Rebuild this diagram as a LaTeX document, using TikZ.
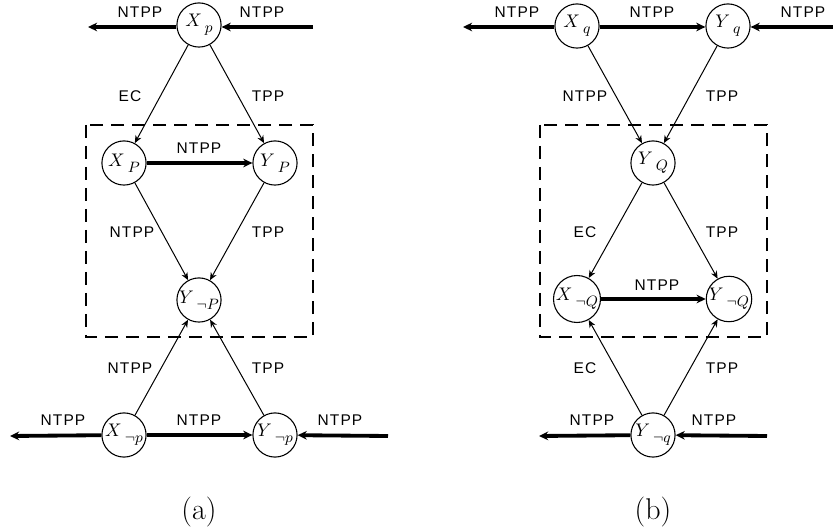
\documentclass[tikz,border=0pt]{standalone}
\usepackage{fontspec}
\usetikzlibrary{arrows.meta}
\newfontfamily\labfont{Liberation Sans}[LetterSpace=7.0]
\newcommand\mysub[2]{#1\mkern3mu\lower3.6pt\hbox{\fontsize{9}{10}\selectfont$#2$}}
\begin{document}
\begin{tikzpicture}[x=0.6pt,y=-0.6pt,
  st/.style={circle,draw,line width=0.65pt,minimum size=26.5pt,inner sep=0pt,font=\fontsize{11}{13}\selectfont},
  fine/.style={line width=0.6pt,-{Stealth[length=4.6pt,width=3.9pt]}},
  bold/.style={line width=2.3pt,-{Stealth[length=5.5pt,width=5.2pt]}},
  lab/.style={font=\labfont\fontsize{9.3}{11}\selectfont,inner sep=0pt},
  captext/.style={font=\fontsize{18}{20}\selectfont,inner sep=0pt},
  box/.style={line width=1.6pt,dash pattern=on 7.8pt off 4.8pt}]
\useasboundingbox (0,0) rectangle (833,531);
% ---------- panel (a) ----------
\draw[box] (86,125) rectangle (313,337);
\node[st] (Xp) at (199,25) {$\mysub{X}{p}$};
\node[st] (XP) at (124,163) {$\mysub{X}{P}$};
\node[st] (YP) at (275,163) {$\mysub{Y}{P}$};
\node[st] (YnP) at (199,300) {$\mysub{Y}{\neg P}$};
\node[st] (Xnp) at (124,435) {$\mysub{X}{\neg p}$};
\node[st] (Ynp) at (275,435) {$\mysub{Y}{\neg p}$};
\coordinate (aTL) at (88,27);
\coordinate (aTR) at (313,27);
\coordinate (aBL) at (10,436);
\coordinate (aBR) at (388,436);
\draw[bold] (Xp.west|-aTL) -- (aTL);
\draw[bold] (aTR) -- (Xp.east|-aTR);
\draw[fine] (Xp) -- (XP);
\draw[fine] (Xp) -- (YP);
\draw[bold] (XP) -- (YP);
\draw[fine] (XP) -- (YnP);
\draw[fine] (YP) -- (YnP);
\draw[fine] (Xnp) -- (YnP);
\draw[fine] (Ynp) -- (YnP);
\draw[bold] (Xnp) -- (Ynp);
\draw[bold] (Xnp) -- (aBL);
\draw[bold] (aBR) -- (Ynp);
\node[lab] (la1) at (140,12) {NTPP};
\node[lab] (la2) at (262,12) {NTPP};
\node[lab] (la3) at (130,96) {EC};
\node[lab] (la4) at (268,96) {TPP};
\node[lab] (la5) at (199,148) {NTPP};
\node[lab] (la6) at (132,232) {NTPP};
\node[lab] (la7) at (268,232) {TPP};
\node[lab] (la8) at (130,368) {NTPP};
\node[lab] (la9) at (268,368) {TPP};
\node[lab] (la10) at (63,420) {NTPP};
\node[lab] (la11) at (199,420) {NTPP};
\node[lab] (la12) at (340,420) {NTPP};
\node[captext] (capa) at (199,512) {(a)};
% ---------- panel (b) ----------
\draw[box] (540,125) rectangle (767,337);
\node[st] (Xq) at (577,26) {$\mysub{X}{q}$};
\node[st] (Yq) at (728,26) {$\mysub{Y}{q}$};
\node[st] (YQ) at (653,163) {$\mysub{Y}{Q}$};
\node[st] (XnQ) at (577,299) {$\mysub{X}{\neg Q}$};
\node[st] (YnQ) at (729,299) {$\mysub{Y}{\neg Q}$};
\node[st] (Ynq) at (653,435) {$\mysub{Y}{\neg q}$};
\coordinate (bTL) at (463,27);
\coordinate (bTR) at (833,27);
\coordinate (bBL) at (539,436);
\coordinate (bBR) at (767,436);
\draw[bold] (Xq.west|-bTL) -- (bTL);
\draw[bold] (Xq.east|-bTL) -- (Yq.west|-bTL);
\draw[bold] (bTR) -- (Yq.east|-bTR);
\draw[fine] (Xq) -- (YQ);
\draw[fine] (Yq) -- (YQ);
\draw[fine] (YQ) -- (XnQ);
\draw[fine] (YQ) -- (YnQ);
\draw[bold] (XnQ) -- (YnQ);
\draw[fine] (Ynq) -- (XnQ);
\draw[fine] (Ynq) -- (YnQ);
\draw[bold] (Ynq) -- (bBL);
\draw[bold] (bBR) -- (Ynq);
\node[lab] (lb1) at (517,12) {NTPP};
\node[lab] (lb2) at (652,12) {NTPP};
\node[lab] (lb3) at (803,12) {NTPP};
\node[lab] (lb4) at (585,96) {NTPP};
\node[lab] (lb5) at (722,96) {TPP};
\node[lab] (lb6) at (585,232) {EC};
\node[lab] (lb7) at (722,232) {TPP};
\node[lab] (lb8) at (657,285) {NTPP};
\node[lab] (lb9) at (585,368) {EC};
\node[lab] (lb10) at (722,368) {TPP};
\node[lab] (lb11) at (592,420) {NTPP};
\node[lab] (lb12) at (714,420) {NTPP};
\node[captext] (capb) at (653,512) {(b)};
\end{tikzpicture}
\end{document}
